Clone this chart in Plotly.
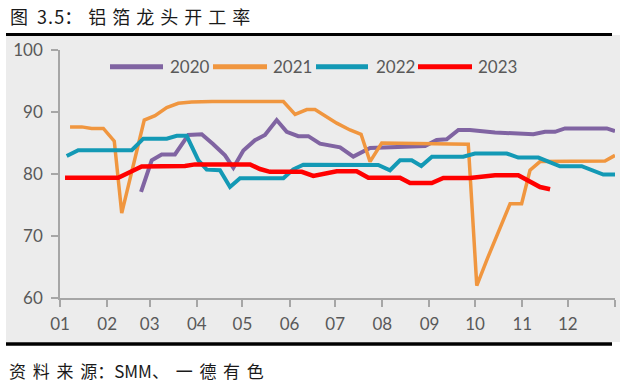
import plotly.graph_objects as go

# ---- data (x = day of year, y = operating rate %) ----
days_2020 = [53.3, 60.3, 66.9, 75.6, 84.4, 93.2, 100.8, 108.5, 114.0, 120.6, 128.2, 134.8, 142.5,
             149.1, 156.7, 163.3, 171.0, 184.2, 192.9, 203.9, 240.1, 247.7, 254.3, 262.0, 269.6,
             286.1, 311.3, 319.0, 325.5, 332.1, 359.6, 365.0]
vals_2020 = [77.1, 82.2, 83.15, 83.15, 86.3, 86.4, 84.8, 83.0, 81.0, 83.8, 85.45, 86.3, 88.7,
             86.8, 86.1, 86.1, 84.9, 84.3, 82.8, 84.2, 84.5, 85.5, 85.6, 87.1, 87.1,
             86.7, 86.4, 86.8, 86.8, 87.35, 87.35, 86.9]

days_2021 = [6.6, 14.3, 20.8, 28.5, 35.7, 40.6, 48.0, 55.4, 62.5, 70.2, 77.8, 86.6, 100.0, 120.0,
             146.9, 154.6, 162.3, 167.7, 175.4, 182.0, 190.7, 198.0, 203.9, 211.6, 268.5, 274.1,
             280.8, 288.1, 296.0, 303.6, 309.1, 315.7, 358.4, 365.0]
vals_2021 = [87.6, 87.6, 87.35, 87.35, 85.3, 73.7, 81.2, 88.7, 89.4, 90.7, 91.4, 91.6, 91.7, 91.7,
             91.7, 89.6, 90.4, 90.4, 89.2, 88.2, 87.1, 86.4, 82.0, 85.0, 84.8, 62.0,
             66.2, 70.6, 75.2, 75.2, 80.6, 82.0, 82.1, 83.0]

days_2022 = [4.4, 12.0, 47.2, 54.8, 70.2, 76.8, 83.3, 91.0, 96.5, 105.2, 111.8, 118.4, 146.9,
             153.4, 160.0, 209.3, 217.0, 223.6, 231.3, 237.6, 244.6, 265.2, 272.9, 293.8, 301.4,
             314.6, 328.8, 343.1, 357.3, 365.0]
vals_2022 = [82.9, 83.85, 83.85, 85.7, 85.7, 86.15, 86.15, 82.2, 80.7, 80.6, 77.9, 79.3, 79.3,
             80.75, 81.5, 81.45, 80.6, 82.2, 82.2, 81.3, 82.8, 82.8, 83.3, 83.3, 82.65,
             82.65, 81.25, 81.25, 79.9, 79.9]

days_2023 = [3.3, 38.3, 47.2, 53.7, 82.2, 88.8, 125.0, 131.5, 138.1, 159.0, 166.6, 174.3, 182.0,
             195.1, 202.8, 223.6, 230.2, 244.5, 252.1, 269.6, 286.1, 301.4, 309.1, 315.7, 322.3]
vals_2023 = [79.4, 79.4, 80.45, 81.2, 81.3, 81.55, 81.55, 80.8, 80.35, 80.35, 79.7, 80.1, 80.45,
             80.45, 79.4, 79.4, 78.55, 78.55, 79.35, 79.35, 79.8, 79.8, 78.7, 77.9, 77.55]

month_starts = [0, 31, 59, 90, 120, 151, 181, 212, 243, 273, 304, 334, 365]
month_labels = ["01", "02", "03", "04", "05", "06", "07", "08", "09", "10", "11", "12", ""]
y_ticks = [60, 70, 80, 90, 100]

series = [
    ("2020", days_2020, vals_2020, "#8064a2", 4),
    ("2021", days_2021, vals_2021, "#f0963f", 3.5),
    ("2022", days_2022, vals_2022, "#1399b5", 4),
    ("2023", days_2023, vals_2023, "#ff0000", 4.5),
]

W, H = 625, 389
ML, MR, MT, MB = 60, 10, 50, 91
PW, PH = W - ML - MR, H - MT - MB


def px(x):
    return (x - ML) / PW


def py(y):
    return (H - MB - y) / PH


fig = go.Figure()
for name, xs, ys, color, width in series:
    fig.add_trace(go.Scatter(x=xs, y=ys, mode="lines", name=name,
                             line=dict(color=color, width=width), showlegend=False))

grey = "#a6a6a6"
txt = "#595959"
tick_font = dict(family="Lato, Liberation Sans, sans-serif", size=17, color=txt)

shapes = [
    dict(type="rect", xref="paper", yref="paper", x0=px(6), x1=px(620), y0=py(342), y1=py(35),
         fillcolor="#ececec", line=dict(width=0), layer="below"),
    dict(type="line", xref="paper", yref="paper", x0=px(6), x1=px(612), y0=py(34.5), y1=py(34.5),
         line=dict(color="black", width=3)),
    dict(type="line", xref="paper", yref="paper", x0=px(6), x1=px(612), y0=py(344), y1=py(344),
         line=dict(color="black", width=3.5)),
]

S = "\u2004"
H6 = "\u200a"
title_text = "图\u2002" + "3" + H6 + "." + H6 + "5" + "：" + S + S.join("铝箔龙头开工率")
S2 = "\u2004\u200a"
source_text = S2.join("资料来源") + "：" + "SMM、" + S2 + S2.join("一德有色")

annotations = [
    dict(text=title_text, xref="paper", yref="paper",
         x=px(8), y=py(16), xanchor="left", yanchor="middle", showarrow=False,
         font=dict(family="Noto Sans CJK SC", size=18, color="#1a1a1a")),
    dict(text=source_text, xref="paper", yref="paper",
         x=px(7), y=py(370), xanchor="left", yanchor="middle", showarrow=False,
         font=dict(family="Noto Sans CJK SC", size=17, color="#1a1a1a")),
]

# manual legend with long line samples
leg_y = py(66.7)
leg_items = [(110, 163, 168), (213, 267, 271), (316, 368, 374), (418, 472, 476)]
for (name, _, _, color, _), (a, b, t) in zip(series, leg_items):
    shapes.append(dict(type="line", xref="paper", yref="paper", x0=px(a), x1=px(b), y0=leg_y, y1=leg_y,
                       line=dict(color=color, width=5)))
    annotations.append(dict(text=name, xref="paper", yref="paper", x=px(t), y=leg_y,
                            xanchor="left", yanchor="middle", showarrow=False, font=tick_font))

fig.update_layout(
    width=W, height=H,
    margin=dict(l=ML, r=MR, t=MT, b=MB),
    paper_bgcolor="white",
    plot_bgcolor="rgba(0,0,0,0)",
    shapes=shapes,
    annotations=annotations,
    xaxis=dict(range=[0, 365], tickmode="array", tickvals=month_starts, ticktext=month_labels,
               showline=True, linecolor=grey, linewidth=1.5, ticks="outside", ticklen=7,
               tickcolor=grey, tickwidth=1.5, showgrid=False, zeroline=False, tickfont=tick_font,
               ticklabelstandoff=3),
    yaxis=dict(range=[60, 100], tickmode="array", tickvals=y_ticks,
               showline=True, linecolor=grey, linewidth=1.5, ticks="outside", ticklen=7,
               tickcolor=grey, tickwidth=1.5, showgrid=False, zeroline=False, tickfont=tick_font,
               ticklabelstandoff=5),
)

fig.write_html("out.html", config={"displayModeBar": False},
               post_script="document.body.style.margin='0';document.body.style.padding='0';")
